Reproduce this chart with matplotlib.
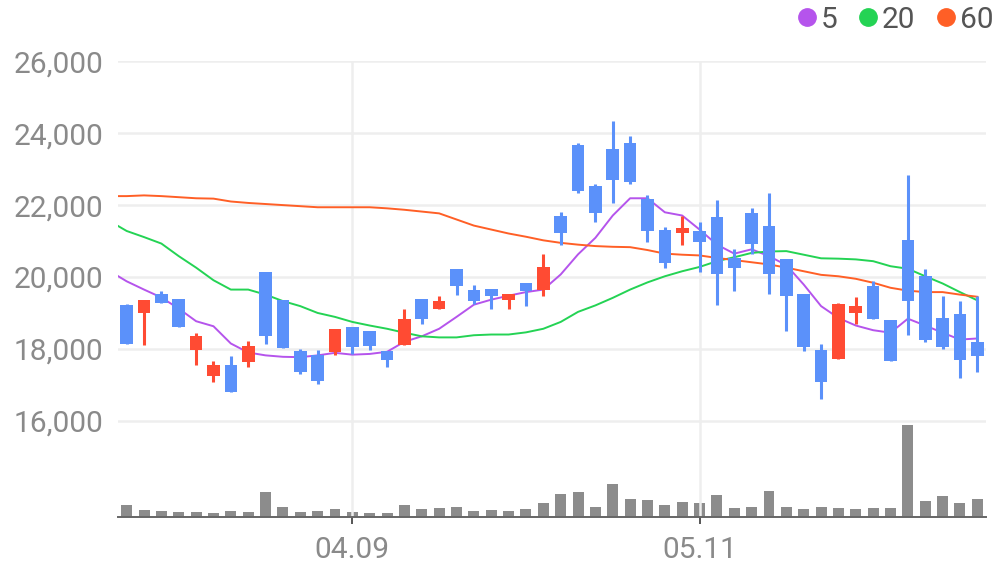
import numpy as np
import matplotlib.pyplot as plt
from matplotlib.lines import Line2D

# daily candles (50 sessions)
opens = [19230, 18990, 19540, 19400, 17960, 17240, 17540, 17630, 20150, 19370,
         17950, 17840, 17920, 18620, 18510, 17950, 18120, 19400, 19120, 20210,
         19650, 19680, 19370, 19820, 19650, 21710, 23660, 22520, 23550, 23720,
         22160, 21300, 21210, 21270, 21660, 20540, 21770, 21410, 20510, 19540,
         17980, 17730, 19010, 19740, 18790, 21040, 20040, 18870, 18960, 18200]
highs = [19260, 19350, 19620, 19400, 18430, 17650, 17810, 18230, 20150, 19370,
         18010, 17980, 18540, 18620, 18510, 17950, 19120, 19400, 19460, 20210,
         19790, 19680, 19540, 19820, 20650, 21820, 23720, 22580, 24330, 23910,
         22270, 21380, 21710, 21520, 22130, 20770, 21910, 22330, 20510, 19540,
         18150, 19290, 19430, 19900, 18790, 22830, 20210, 19480, 19320, 19480]
lows = [18150, 18120, 19270, 18600, 17560, 17090, 16790, 17490, 18130, 18020,
        17310, 17010, 17840, 17870, 17980, 17510, 18120, 18700, 19120, 19510,
        19260, 19120, 19120, 19180, 19460, 20900, 22330, 21520, 22070, 22580,
        20960, 20260, 20880, 20150, 19230, 19620, 20630, 19540, 18510, 17930,
        16620, 17730, 18700, 18820, 17650, 18400, 18180, 18010, 17200, 17370]
closes = [18150, 19350, 19270, 18600, 18370, 17540, 16790, 18090, 18350, 18020,
          17370, 17120, 18540, 18040, 18090, 17700, 18820, 18840, 19320, 19760,
          19320, 19460, 19540, 19620, 20290, 21210, 22380, 21770, 22690, 22630,
          21270, 20380, 21350, 20960, 20070, 20260, 20930, 20070, 19460, 18040,
          17090, 19260, 19180, 18820, 17650, 19320, 18260, 18060, 17700, 17810]
# volume, thousand shares
volumes = [140, 80, 68, 56, 56, 44, 68, 56, 296, 116,
           56, 68, 92, 56, 44, 44, 140, 92, 104, 116,
           68, 80, 68, 92, 164, 272, 296, 116, 392, 212,
           200, 140, 176, 164, 260, 104, 116, 308, 116, 92,
           116, 104, 92, 104, 104, 1100, 188, 248, 164, 212]

# moving averages, first value is the session before the visible window
ma5 = [20170, 19880, 19650, 19430, 19120, 18770, 18630, 18150, 17900, 17820,
       17780, 17770, 17820, 17890, 17840, 17860, 17920, 18200, 18350, 18560,
       18890, 19230, 19370, 19480, 19580, 19650, 20070, 20630, 21090, 21710,
       22190, 22190, 21800, 21710, 21320, 20900, 20650, 20770, 20580, 20330,
       19790, 19190, 18860, 18650, 18520, 18450, 18840, 18650, 18450, 18260, 18290]
ma20 = [21560, 21280, 21110, 20930, 20580, 20260, 19910, 19650, 19650, 19510,
        19330, 19190, 19000, 18890, 18750, 18650, 18560, 18450, 18350, 18320,
        18320, 18380, 18400, 18400, 18460, 18560, 18750, 19030, 19210, 19420,
        19650, 19850, 20020, 20160, 20280, 20440, 20550, 20670, 20710, 20720,
        20620, 20520, 20510, 20490, 20440, 20300, 20230, 20020, 19820, 19580, 19350]
ma60 = [22250, 22250, 22270, 22250, 22220, 22190, 22180, 22100, 22060, 22030,
        22000, 21970, 21940, 21940, 21940, 21940, 21910, 21870, 21820, 21770,
        21600, 21430, 21320, 21210, 21120, 21020, 20950, 20900, 20860, 20840,
        20830, 20750, 20650, 20620, 20600, 20530, 20470, 20410, 20350, 20260,
        20160, 20060, 20020, 19950, 19840, 19700, 19620, 19580, 19580, 19510, 19450]

tick_idx = [13, 33]
tick_labels = ['04.09', '05.11']
price_ticks = [16000, 18000, 20000, 22000, 24000, 26000]

ma_labels = ['5', '20', '60']
ma_colors = ['#B554EC', '#24D354', '#FF5F26']
up_color = '#FF4B33'
down_color = '#5B91FA'

plt.rcParams['font.family'] = ['Roboto', 'DejaVu Sans']

fig = plt.figure(figsize=(9.96, 5.67), dpi=100)
ax = fig.add_axes([118 / 996, 50 / 567, 868 / 996, 455.7 / 567])
vax = ax.twinx()
ax.set_zorder(vax.get_zorder() + 1)
ax.patch.set_visible(False)

n = len(opens)
x = np.arange(n)
o = np.array(opens)
c = np.array(closes)

# volume
vax.bar(x, volumes, width=0.63, color='#8C8C8C', zorder=2)
vax.set_ylim(0, max(volumes) * 4.97)
vax.set_yticks([])
for s in vax.spines.values():
    s.set_visible(False)

# moving average lines
xm = np.arange(-1, n)
for vals, col in zip([ma5, ma20, ma60], ma_colors):
    ax.plot(xm, vals, color=col, lw=1.4, zorder=2)

# candles
colors = np.where(c >= o, up_color, down_color)
ax.vlines(x, lows, highs, colors=colors, lw=2.2, zorder=3)
body = np.maximum(np.abs(c - o), 60)
ax.bar(x, body, bottom=np.minimum(o, c), width=0.73, color=colors, zorder=3)

ax.set_xlim(-0.5, n - 0.5)
ax.set_ylim(13324, 26000)
ax.set_yticks(price_ticks)
ax.set_yticklabels([f'{v:,}' for v in price_ticks])
ax.set_xticks(tick_idx)
ax.set_xticklabels(tick_labels)
ax.grid(True, color='#EEEEEE', lw=1.8, zorder=0)
ax.set_axisbelow(True)
ax.tick_params(axis='y', length=0, pad=10.5, labelsize=21.5, labelcolor='#8A8A8A')
ax.tick_params(axis='x', length=5, width=1.4, color='#555555', pad=8.5,
               labelsize=21.5, labelcolor='#8A8A8A')
for side in ['top', 'right', 'left']:
    ax.spines[side].set_visible(False)
ax.spines['bottom'].set_color('#666666')
ax.spines['bottom'].set_linewidth(1.4)

# legend at the top right
legend_x = [807, 868, 946]
for lab, col, xc in zip(ma_labels, ma_colors, legend_x):
    fig.add_artist(Line2D([xc / 996], [1 - 17 / 567], transform=fig.transFigure,
                          marker='o', markersize=12.5, color=col, linestyle=''))
    fig.text((xc + 14) / 996, 1 - 17 / 567, lab, fontsize=21.5, color='#555555',
             ha='left', va='center_baseline')

fig.savefig('out.png', dpi=100)
